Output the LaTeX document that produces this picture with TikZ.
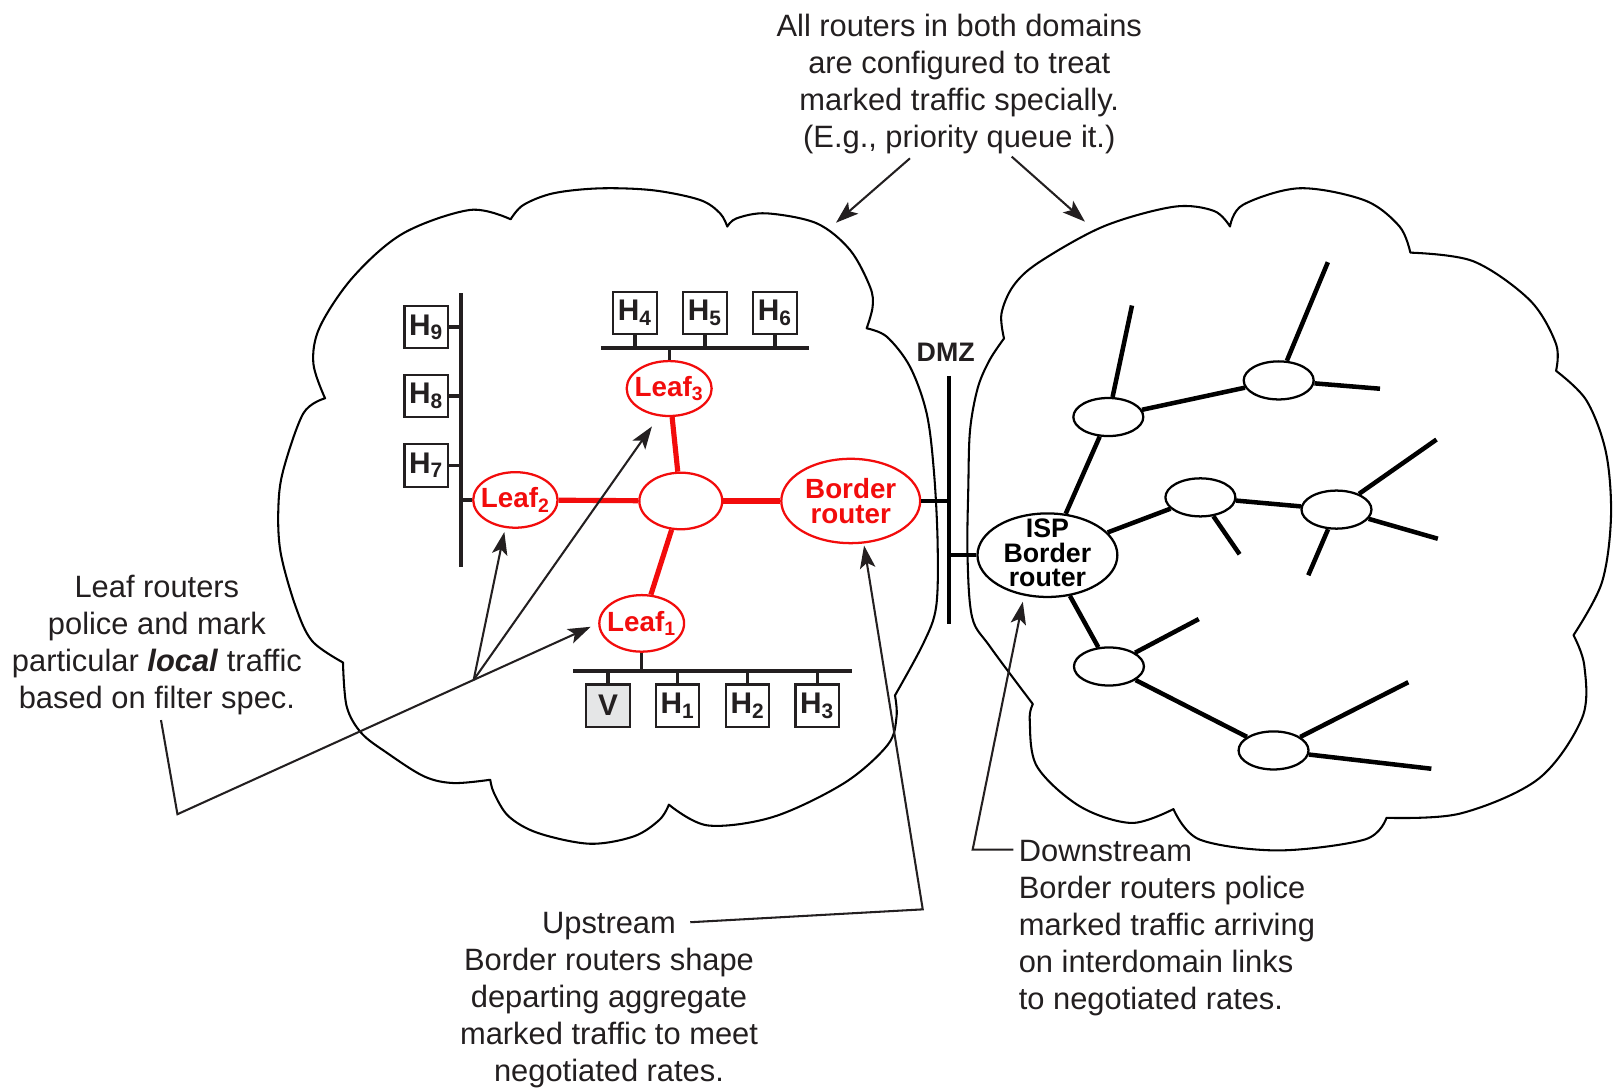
\documentclass[tikz,border=0pt]{standalone}
\usepackage{fontspec}
\setmainfont{Liberation Sans}
\usetikzlibrary{shapes.geometric,arrows.meta,calc}
\definecolor{ink}{RGB}{35,31,32}
\definecolor{rred}{RGB}{242,12,12}
\definecolor{vgray}{RGB}{229,230,231}
\tikzset{
  cloudline/.style={draw=black, line width=1pt, line join=round},
  hostbox/.style={draw=ink, line width=1pt, fill=white, minimum width=21.1pt, minimum height=20.6pt, inner sep=0pt, font={\fontsize{14.5}{14.5}\selectfont\bfseries}, text=ink},
  bus/.style={draw=ink, line width=2pt},
  tab/.style={draw=ink, line width=1.6pt},
  redrouter/.style={ellipse, draw=rred, line width=1.1pt, fill=white, inner sep=0pt},
  redtext/.style={text=rred, inner sep=0pt, align=center, font={\fontsize{13.5}{12}\selectfont\bfseries}},
  redlink/.style={draw=rred, line width=2.5pt},
  blkrouter/.style={ellipse, draw=black, line width=1.1pt, fill=white, inner sep=0pt},
  blktext/.style={text=black, inner sep=0pt, align=center, font={\fontsize{13}{12}\selectfont\bfseries}},
  link/.style={draw=black, line width=2.2pt},
  dmzbar/.style={draw=black, line width=2.3pt},
  dmzlink/.style={draw=black, line width=1.8pt},
  note/.style={font={\fontsize{15}{18}\selectfont}, text=ink, inner sep=0pt},
  callout/.style={draw=ink, line width=1pt},
  arr/.style={callout, -{Stealth[length=11pt,width=7.5pt,inset=2.5pt]}},
}
\begin{document}
\begin{tikzpicture}[x=0.5pt,y=-0.5pt]
\useasboundingbox (0,0) rectangle (1568,1058);
\fill[white] (0,0) rectangle (1568,1058);

% ---------- left cloud ----------
\draw[cloudline]
  plot[smooth,tension=0.55] coordinates {(496.4,213.2) (508.7,199.3) (537.9,187.9) (583.3,183.1) (635,185) (680.5,194.4) (700,207.4) (707,220.3)}
  -- plot[smooth,tension=0.55] coordinates {(707,220.3) (716.1,212.2) (745.3,207.4) (793.9,217.1) (826.3,243) (845.7,278.7) (848.3,298) (842.5,319.2)}
  -- plot[smooth,tension=0.55] coordinates {(842.5,319.2) (862,327.3) (884.6,356.5) (900.8,401.8) (908,460) (911.5,530) (910,590) (897.6,625.4) (870,676)}
  -- plot[smooth,tension=0.55] coordinates {(870,676) (871.5,697) (863,724) (821,761) (752,794) (688,802.4) (650.2,782.2)}
  -- plot[smooth,tension=0.55] coordinates {(650.2,782.2) (641.2,796.8) (616.2,813) (573.3,820.2) (523.1,809.8) (494.5,793.6) (480.2,770.9) (476.6,758)}
  -- plot[smooth,tension=0.55] coordinates {(476.6,758) (440.8,761.2) (412.2,754.7) (376.4,732) (351.3,712.6) (337,686.7) (333.4,644)}
  -- plot[smooth,tension=0.55] coordinates {(333.4,644) (303.4,623.1) (287,588.5) (272.7,536.6) (270.6,493.3) (275.4,456.9) (294.9,401.8) (316,387.2)}
  -- plot[smooth,tension=0.55] coordinates {(316,387.2) (304.6,353.2) (311,317.6) (343.5,269) (392,226.8) (456.9,204.1) (496.4,213.2)}
  -- cycle;

% ---------- right cloud ----------
\draw[cloudline]
  plot[smooth,tension=0.55] coordinates {(976,329) (973.5,305) (985,278) (1010,255) (1073,220) (1141,201) (1180,205) (1195.7,220.2)}
  -- plot[smooth,tension=0.55] coordinates {(1195.7,220.2) (1208.3,199.1) (1263.3,183) (1326.7,194.8) (1360.5,220.2) (1371,245.6)}
  -- plot[smooth,tension=0.55] coordinates {(1371,245.6) (1432.3,254) (1487.3,292) (1512.6,334.3) (1512.6,360.5)}
  -- plot[smooth,tension=0.55] coordinates {(1512.6,360.5) (1542.2,389.3) (1561.2,440) (1566,503.4) (1557,566.8) (1529.6,617.5)}
  -- plot[smooth,tension=0.55] coordinates {(1529.6,617.5) (1540.1,647) (1538,697.8) (1495.7,757) (1419.7,790.8) (1347.8,795)}
  -- plot[smooth,tension=0.55] coordinates {(1347.8,795) (1326.7,816.1) (1242.2,826.7) (1166.1,816.1) (1140.7,786.5)}
  -- plot[smooth,tension=0.55] coordinates {(1140.7,786.5) (1100,800) (1050,784) (1008,745) (1001,700) (1004,684.4)}
  -- plot[smooth,tension=0.55] coordinates {(1004,684.4) (962.4,628.6) (945,600) (940.5,540) (941.3,473) (943,418) (950.5,377) (962,350) (976,329)}
  -- cycle;

% ---------- hosts ----------
\node[hostbox] (h4) at (617.3,304.1) {H\textsubscript{4}};
\node[hostbox] (h5) at (685.3,304.1) {H\textsubscript{5}};
\node[hostbox] (h6) at (753.4,304.1) {H\textsubscript{6}};
\node[hostbox] (h9) at (414.3,318) {H\textsubscript{9}};
\node[hostbox] (h8) at (414.3,385) {H\textsubscript{8}};
\node[hostbox] (h7) at (414.3,452.4) {H\textsubscript{7}};
\node[hostbox, fill=vgray] (v) at (591,686) {V};
\node[hostbox] (h1) at (658.8,686) {H\textsubscript{1}};
\node[hostbox] (h2) at (726.8,686) {H\textsubscript{2}};
\node[hostbox] (h3) at (794.4,686) {H\textsubscript{3}};

% buses
\coordinate (bus3w) at (584,338);
\coordinate (bus3e) at (786.7,338);
\coordinate (bus2n) at (447.8,285);
\coordinate (bus2s) at (447.8,551.5);
\coordinate (bus1w) at (557.3,652);
\coordinate (bus1e) at (828,652);
\draw[bus] (bus3w) -- (bus3e);
\draw[bus] (bus2n) -- (bus2s);
\draw[bus] (bus1w) -- (bus1e);
\foreach \h in {h4,h5,h6} \draw[tab] (\h.south) -- (\h.south |- bus3w);
\foreach \h in {h9,h8,h7} \draw[tab] (\h.east) -- (\h.east -| bus2n);
\foreach \h in {v,h1,h2,h3} \draw[tab] (\h.north) -- (\h.north |- bus1w);

% ---------- red routers ----------
\node[redrouter, minimum width=41.3pt, minimum height=26.7pt] (leaf3) at (650.5,377.7) {};
\node[redrouter, minimum width=40.3pt, minimum height=27.5pt] (core) at (661.8,487) {};
\node[redrouter, minimum width=41pt, minimum height=27pt] (leaf2) at (501,486) {};
\node[redrouter, minimum width=41.2pt, minimum height=27.5pt] (leaf1) at (623.8,606) {};
\node[redrouter, minimum width=67.5pt, minimum height=41pt] (border) at (827,487) {};
\node[redtext] (leaf3t) at (leaf3) {Leaf\textsubscript{3}};
\node[redtext] (leaf2t) at (leaf2) {Leaf\textsubscript{2}};
\node[redtext] (leaf1t) at (leaf1) {Leaf\textsubscript{1}};
\node[redtext] (bordert) at (border) {Border\\router};
\draw[redlink] (leaf2) -- (core);
\draw[redlink] (core) -- (border);
\draw[redlink] (core) -- (leaf3);
\draw[redlink] (core) -- (leaf1);
\draw[tab] (leaf3.north) -- (leaf3.north |- bus3w);
\draw[tab] (leaf2.west) -- (leaf2.west -| bus2n);
\draw[tab] (leaf1.south) -- (leaf1.south |- bus1w);

% ---------- DMZ ----------
\coordinate (dmzt) at (922.5,365.5);
\coordinate (dmzb) at (922.5,607);
\draw[dmzbar] (dmzt) -- (dmzb);
\node[blktext, text=ink] (dmz) at (919.3,342.5) {DMZ};

% ---------- ISP network ----------
\node[blkrouter, minimum width=68pt, minimum height=40.6pt] (isp) at (1018.2,539.7) {};
\node[blktext] (ispt) at (1018.2,537.5) {ISP\\Border\\router};
\node[blkrouter, minimum width=34pt, minimum height=18.5pt] (e1) at (1077.4,405.4) {};
\node[blkrouter, minimum width=34pt, minimum height=18.5pt] (e2) at (1243,369.8) {};
\node[blkrouter, minimum width=34pt, minimum height=18.5pt] (e3) at (1166.9,483.5) {};
\node[blkrouter, minimum width=34pt, minimum height=18.5pt] (e4) at (1299.2,495.4) {};
\node[blkrouter, minimum width=34pt, minimum height=18.5pt] (e5) at (1078,647.9) {};
\node[blkrouter, minimum width=34pt, minimum height=18.5pt] (e6) at (1238,729.5) {};
\coordinate (t1) at (1100.4,297);
\coordinate (t2) at (1290.8,254.9);
\coordinate (t3) at (1341.5,377.9);
\coordinate (t4) at (1205,538.8);
\coordinate (t5) at (1396.4,427.3);
\coordinate (t6) at (1397.7,523.7);
\coordinate (t7) at (1271.8,559.2);
\coordinate (t8) at (1165.3,601.8);
\coordinate (t9) at (1369,663.2);
\coordinate (t10) at (1391.4,747.3);
\draw[link] (isp) -- (e1);
\draw[link] (isp) -- (e3);
\draw[link] (isp) -- (e5);
\draw[link] (e1) -- (e2);
\draw[link] (e3) -- (e4);
\draw[link] (e5) -- (e6);
\draw[link] (e1) -- (t1);
\draw[link] (e2) -- (t2);
\draw[link] (e2) -- (t3);
\draw[link] (e3) -- (t4);
\draw[link] (e4) -- (t5);
\draw[link] (e4) -- (t6);
\draw[link] (e4) -- (t7);
\draw[link] (e5) -- (t8);
\draw[link] (e6) -- (t9);
\draw[link] (e6) -- (t10);
\draw[dmzlink] (border.east) -- (border.east -| dmzt);
\draw[dmzlink] (isp.west) -- (isp.west -| dmzt);

% ---------- notes ----------
\node[note, align=center, anchor=north] (topnote) at (932.5,13) {All routers in both domains\\are configured to treat\\marked traffic specially.\\(E.g., priority queue it.)};
\node[note, align=center, anchor=north] (leafnote) at (152.5,559) {Leaf routers\\police and mark\\particular \textbf{\textit{local}} traffic\\based on filter spec.};
\node[note, align=center, anchor=north] (upnote) at (592,886) {Upstream\\Border routers shape\\departing aggregate\\marked traffic to meet\\negotiated rates.};
\node[note, align=left, anchor=north west] (downnote) at (990,816) {Downstream\\Border routers police\\marked traffic arriving\\on interdomain links\\to negotiated rates.};

% ---------- callout arrows ----------
\coordinate (ta1) at (884.6,153.9);
\coordinate (ta2) at (812.7,216.5);
\coordinate (tb1) at (983.5,152.3);
\coordinate (tb2) at (1054.7,215.5);
\draw[arr] (ta1) -- (ta2);
\draw[arr] (tb1) -- (tb2);

\coordinate (l0) at (156.5,700);
\coordinate (l1) at (172.5,791.5);
\draw[arr, shorten >=4pt] (l0) -- (l1) -- (leaf1.west);
\coordinate (lj) at ($(l1)!0.704!(leaf1.west)$);
\draw[arr, shorten >=2pt] (lj) -- (leaf2.250);
\draw[arr, shorten >=6pt] (lj) -- (leaf3.250);

\coordinate (u1) at (671,896.5);
\coordinate (u2) at (897,884);
\draw[arr, shorten >=1pt] (u1) -- (u2) -- (border.287);

\coordinate (d0) at (985,826);
\coordinate (d1) at (945.5,826);
\draw[arr, shorten >=3pt] (d0) -- (d1) -- (isp.240);
\end{tikzpicture}
\end{document}
